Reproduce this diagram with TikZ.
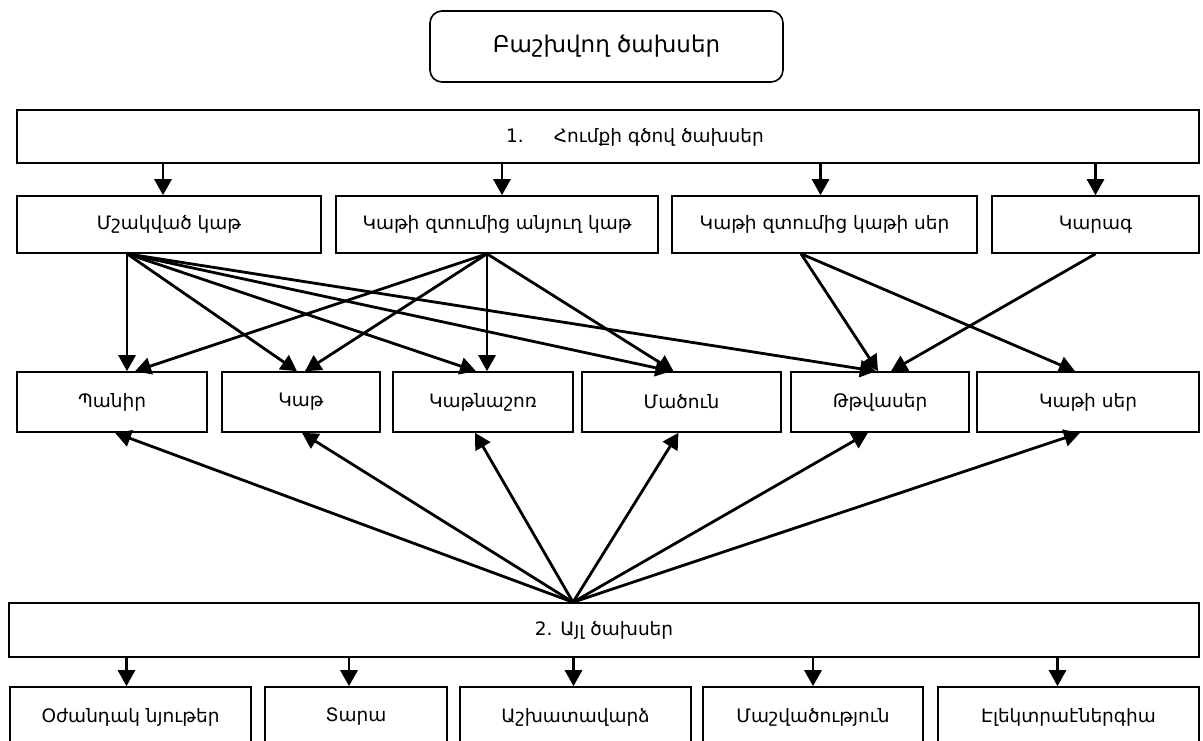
\documentclass[tikz,border=0pt]{standalone}
\usepackage{fontspec}
\setmainfont{DejaVu Sans}
\usetikzlibrary{arrows.meta}

\begin{document}
\begin{tikzpicture}[x=1pt,y=-1pt,font=\fontsize{18.5}{22}\selectfont,
  box/.style={draw,line width=1.6pt,inner sep=0pt},
  arr/.style={line width=2.8pt,-{Triangle[length=16pt,width=17pt]}}]
\useasboundingbox (0,0) rectangle (1203,740);
\clip (0,0) rectangle (1203,740);
% top
\node[box,rounded corners=12pt,minimum width=353pt,minimum height=71pt,font=\fontsize{23}{27}\selectfont] (bsh) at (606.5,46.5){Բաշխվող ծախսեր};
\node[box,minimum width=1182pt,minimum height=53pt] (h1) at (608,136.5){};
\node[] (h1t) at (635,137){1.\hspace{30pt}Հումքի գծով ծախսեր};
% raw materials
\node[box,minimum width=304pt,minimum height=57pt] (mk) at (169,224.5){Մշակված կաթ};
\node[box,minimum width=322pt,minimum height=57pt] (ank) at (497,224.5){Կաթի զտումից անյուղ կաթ};
\node[box,minimum width=305pt,minimum height=57pt] (ser) at (824.5,224.5){Կաթի զտումից կաթի սեր};
\node[box,minimum width=207pt,minimum height=57pt] (krg) at (1095.5,224.5){Կարագ};
% products
\node[box,minimum width=190pt,minimum height=60pt] (pnr) at (112,402){Պանիր};
\node[box,minimum width=158pt,minimum height=60pt] (kat) at (301,402){Կաթ};
\node[box,minimum width=180pt,minimum height=60pt] (ksh) at (483,402){Կաթնաշոռ};
\node[box,minimum width=199pt,minimum height=60pt] (mdn) at (681.5,402){Մածուն};
\node[box,minimum width=178pt,minimum height=60pt] (ttv) at (880,402){Թթվասեր};
\node[box,minimum width=222pt,minimum height=60pt] (kts) at (1088,402){Կաթի սեր};
% other costs
\node[box,minimum width=1190pt,minimum height=54pt] (h2) at (604,630){2. Այլ ծախսեր};
\node[box,minimum width=241pt,minimum height=60pt] (ozh) at (130.5,717){Օժանդակ նյութեր};
\node[box,minimum width=182pt,minimum height=60pt] (tar) at (356,717){Տարա};
\node[box,minimum width=231pt,minimum height=60pt] (ash) at (575.5,717){Աշխատավարձ};
\node[box,minimum width=220pt,minimum height=60pt] (msh) at (813,717){Մաշվածություն};
\node[box,minimum width=261pt,minimum height=60pt] (elk) at (1068.5,717){Էլեկտրաէներգիա};

\draw[arr] ([xshift=-6]mk.north |- h1.south) -- ([xshift=-6]mk.north);
\draw[arr] ([xshift=5]ank.north |- h1.south) -- ([xshift=5]ank.north);
\draw[arr] ([xshift=-4]ser.north |- h1.south) -- ([xshift=-4]ser.north);
\draw[arr] (krg.north |- h1.south) -- (krg.north);

\coordinate (mko) at ([xshift=-42]mk.south);
\coordinate (anko) at ([xshift=-10]ank.south);
\coordinate (sero) at ([xshift=-23.5]ser.south);
\coordinate (krgo) at (krg.south);
\draw[arr] (mko) -- ([xshift=15]pnr.north);
\draw[arr] (mko) -- ([xshift=-4]kat.north);
\draw[arr] (mko) -- ([xshift=-7]ksh.north);
\draw[arr] (mko) -- ([xshift=-10]mdn.north);
\draw[arr] (mko) -- ([xshift=-4]ttv.north);
\draw[arr] (anko) -- ([xshift=23]pnr.north);
\draw[arr] (anko) -- ([xshift=4]kat.north);
\draw[arr] (anko) -- ([xshift=4]ksh.north);
\draw[arr] (anko) -- ([xshift=-8]mdn.north);
\draw[arr] (sero) -- ([xshift=-2]ttv.north);
\draw[arr] (sero) -- ([xshift=-13]kts.north);
\draw[arr] (krgo) -- ([xshift=11]ttv.north);

\coordinate (h2i) at ([xshift=-31]h2.north);
\draw[arr] (h2i) -- ([xshift=3]pnr.south);
\draw[arr] (h2i) -- ([xshift=1]kat.south);
\draw[arr] (h2i) -- ([xshift=-8]ksh.south);
\draw[arr] (h2i) -- ([xshift=-3]mdn.south);
\draw[arr] (h2i) -- ([xshift=-12]ttv.south);
\draw[arr] (h2i) -- ([xshift=-8]kts.south);

\draw[arr] ([xshift=-4]ozh.north |- h2.south) -- ([xshift=-4]ozh.north);
\draw[arr] ([xshift=-7]tar.north |- h2.south) -- ([xshift=-7]tar.north);
\draw[arr] ([xshift=-2]ash.north |- h2.south) -- ([xshift=-2]ash.north);
\draw[arr] (msh.north |- h2.south) -- (msh.north);
\draw[arr] ([xshift=-11]elk.north |- h2.south) -- ([xshift=-11]elk.north);
\end{tikzpicture}
\end{document}
